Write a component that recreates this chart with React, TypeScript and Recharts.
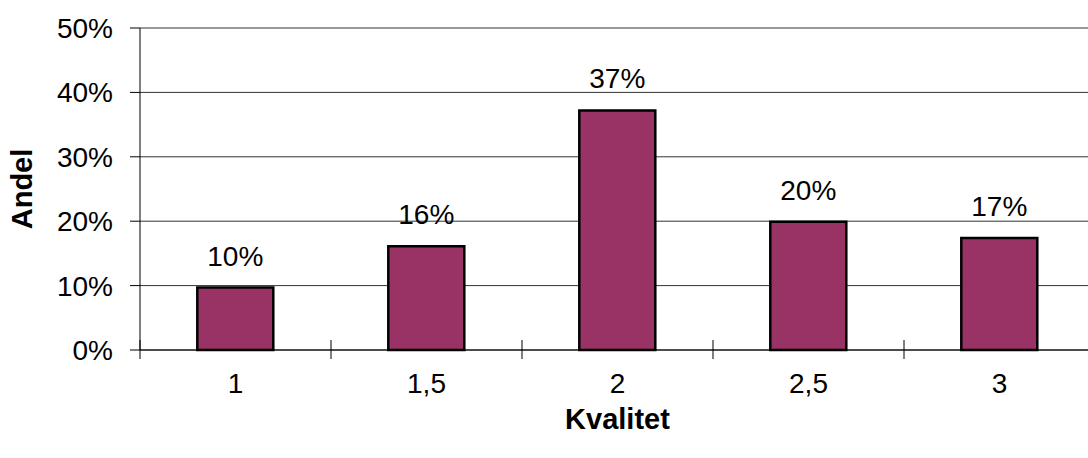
import React from 'react';
import { BarChart, Bar, XAxis, YAxis, CartesianGrid, LabelList, Label } from 'recharts';

// Quality grades on the x axis and the share of items in each grade
const categories = ['1', '1,5', '2', '2,5', '3'];
const shares = [0.097, 0.161, 0.372, 0.199, 0.174];
const yTicks = [0, 0.1, 0.2, 0.3, 0.4, 0.5];

const data = categories.map((kvalitet, i) => ({ kvalitet, andel: shares[i] }));

const FONT = '"Liberation Sans", Arial, Helvetica, sans-serif';
const TICK_FONT = 28;
const TITLE_FONT = 29;

const CHART_W = 1100;
const CHART_H = 458;
const Y_AXIS_W = 140;
const MARGIN = { top: 28, right: 5, left: 0, bottom: 0 };
const PLOT_W = CHART_W - Y_AXIS_W - MARGIN.left - MARGIN.right;
const BAND = PLOT_W / categories.length;

const pct = (v: number) => `${Math.round(v * 100)}%`;

// Category label centred in its slot, with a crossing tick mark on the slot boundary
function KvalitetTick(props: any) {
  const { x, y, payload, index } = props;
  const left = x - BAND / 2;
  const right = x + BAND / 2;
  return (
    <g>
      <line x1={left} y1={y - 10} x2={left} y2={y + 9} stroke="#000" strokeWidth={1} />
      {index === categories.length - 1 && (
        <line x1={right} y1={y - 10} x2={right} y2={y + 9} stroke="#000" strokeWidth={1} />
      )}
      <text
        x={x}
        y={y + 43}
        textAnchor="middle"
        fontFamily={FONT}
        fontSize={TICK_FONT}
        fill="#000"
      >
        {payload.value}
      </text>
    </g>
  );
}

function ValueLabel(props: any) {
  const { x, y, width, value } = props;
  return (
    <text
      x={Number(x) + Number(width) / 2}
      y={Number(y) - 22}
      textAnchor="middle"
      fontFamily={FONT}
      fontSize={TICK_FONT}
      fill="#000"
    >
      {pct(Number(value))}
    </text>
  );
}

function AndelTitle(props: any) {
  const { viewBox } = props;
  const cx = 22;
  const cy = viewBox.y + viewBox.height / 2;
  return (
    <text
      transform={`translate(${cx}, ${cy}) rotate(-90)`}
      textAnchor="middle"
      dominantBaseline="central"
      fontFamily={FONT}
      fontSize={TITLE_FONT}
      fontWeight="bold"
      fill="#000"
    >
      Andel
    </text>
  );
}

function KvalitetTitle(props: any) {
  const { viewBox } = props;
  const cx = viewBox.x + viewBox.width / 2;
  return (
    <text
      x={cx}
      y={429}
      textAnchor="middle"
      fontFamily={FONT}
      fontSize={TITLE_FONT}
      fontWeight="bold"
      fill="#000"
    >
      Kvalitet
    </text>
  );
}

export default function App() {
  return (
    <div
      style={{
        position: 'absolute',
        left: 0,
        top: 0,
        width: 1088,
        height: 458,
        overflow: 'hidden',
        background: '#fff',
      }}
    >
      <BarChart
        width={CHART_W}
        height={CHART_H}
        data={data}
        margin={MARGIN}
        barCategoryGap="30%"
      >
        <CartesianGrid vertical={false} stroke="#333" strokeWidth={1} />
        <XAxis
          dataKey="kvalitet"
          height={CHART_H - MARGIN.top - 322}
          axisLine={{ stroke: '#000', strokeWidth: 1 }}
          tickLine={false}
          tickSize={0}
          tickMargin={0}
          interval={0}
          tick={<KvalitetTick />}
        >
          <Label content={<KvalitetTitle />} />
        </XAxis>
        <YAxis
          width={Y_AXIS_W}
          domain={[0, 0.5]}
          ticks={yTicks}
          interval={0}
          tickFormatter={pct}
          axisLine={{ stroke: '#000', strokeWidth: 1 }}
          tickLine={{ stroke: '#000', strokeWidth: 1 }}
          tickSize={10}
          tickMargin={17}
          tick={{ fill: '#000', fontSize: TICK_FONT, fontFamily: FONT }}
        >
          <Label content={<AndelTitle />} />
        </YAxis>
        <Bar
          dataKey="andel"
          fill="#993366"
          stroke="#000"
          strokeWidth={2.5}
          isAnimationActive={false}
        >
          <LabelList dataKey="andel" content={<ValueLabel />} />
        </Bar>
      </BarChart>
    </div>
  );
}
